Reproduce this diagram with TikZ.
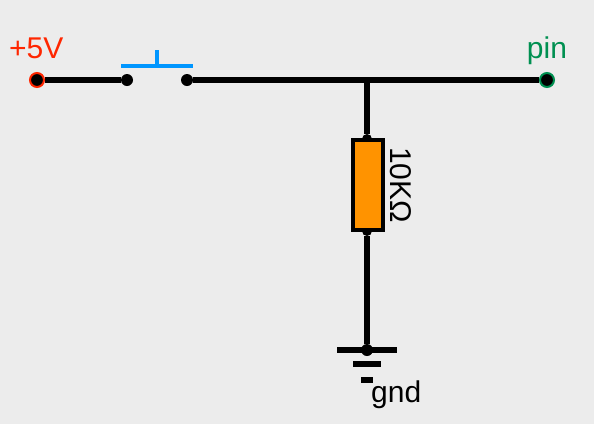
\documentclass[tikz,border=0pt]{standalone}
\usepackage{fontspec}
\setmainfont{Liberation Sans}
\definecolor{paper}{RGB}{236,236,236}
\definecolor{tangerine}{RGB}{255,147,0}
\definecolor{redpin}{RGB}{255,38,0}
\definecolor{greenpin}{RGB}{0,144,81}
\definecolor{aquabtn}{RGB}{0,150,255}
\tikzset{
  wire/.style={line width=6pt},
  dot/.style={circle, fill=black, inner sep=0pt, minimum size=12pt},
  smalldot/.style={circle, fill=black, inner sep=0pt, minimum size=10pt},
  pinend/.style={circle, draw=#1, fill=black, line width=2pt, inner sep=0pt, minimum size=14pt},
  label/.style={font=\fontsize{30}{32}\selectfont, inner sep=0pt}
}
\begin{document}
\begin{tikzpicture}[x=1pt,y=-1pt]
\useasboundingbox[fill=paper] (0,0) rectangle (594,424);

%% vertices
\node[pinend=redpin] (vcc) at (37,80) {};     %% +5V
\node[dot] (swa) at (127,80) {};              %% switch left
\node[dot] (swb) at (187,80) {};              %% switch right
\node[pinend=greenpin] (pin) at (547,80) {};  %% pin
\coordinate (tee) at (367,80);
\node[smalldot] (rtop) at (367,139) {};
\node[smalldot] (rbot) at (367,231) {};
\node[dot] (gnd) at (367,350) {};

%% edges
\draw[wire] (vcc) -- (swa);
\draw[wire] (swb) -- (pin);
\draw[wire] (tee) -- (rtop);
\draw[wire] (rbot) -- (gnd);

%% resistor
\node[draw=black, fill=tangerine, line width=4pt, inner sep=0pt, minimum width=30pt, minimum height=90pt] (res) at (368,185) {};

%% switch
\coordinate (bara) at (121,66);
\coordinate (barb) at (193,66);
\coordinate (barm) at (157,66);
\coordinate (stem) at (157,50);
\draw[aquabtn, line width=4pt] (bara) -- (barb);
\draw[aquabtn, line width=4pt] (barm) -- (stem);

%% ground bars
\coordinate (ga) at (337,350);
\coordinate (gb) at (397,350);
\coordinate (gc) at (353,364);
\coordinate (gd) at (381,364);
\coordinate (ge) at (361,380);
\coordinate (gf) at (373,380);
\draw[wire] (ga) -- (gb);
\draw[wire] (gc) -- (gd);
\draw[wire] (ge) -- (gf);

%% labels
\node[label, text=redpin, anchor=base west] (vcclabel) at (9,58) {+5V};
\node[label, text=greenpin, anchor=base] (pinlabel) at (547,58) {pin};
\node[label, rotate=-90, anchor=base] (reslabel) at (390,185) {10KΩ};
\node[label, anchor=base west] (gndlabel) at (371,402) {gnd};
\end{tikzpicture}
\end{document}
